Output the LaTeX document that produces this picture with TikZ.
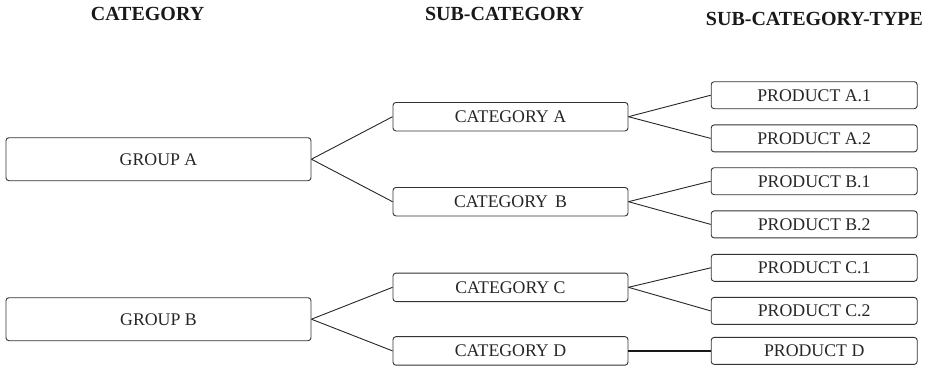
\documentclass[tikz,border=0pt]{standalone}
\usepackage{fontspec}
\setmainfont{Liberation Serif}
\begin{document}
\begin{tikzpicture}[x=1pt,y=-1pt,
  box/.style={draw=black!80,line width=0.9pt,rounded corners=3pt,inner sep=0pt,
    font=\fontsize{17.8}{20}\selectfont,text height=11.8pt,text depth=0pt,text=black!85},
  grp/.style={box,minimum width=305pt,minimum height=43pt},
  cat/.style={box,minimum width=235pt,minimum height=28.5pt},
  prod/.style={box,minimum width=206pt,minimum height=27pt},
  head/.style={inner sep=0pt,font=\fontsize{20}{22}\selectfont\bfseries,text height=13.3pt,text depth=0pt,text=black!90},
  link/.style={draw=black!85,line width=0.9pt},
  thick link/.style={draw=black!90,line width=1.8pt}]
\useasboundingbox (0,0) rectangle (937,368);
\node[head] (h1) at (147.5,14) {CATEGORY};
\node[head] (h2) at (504.5,13.7) {SUB-CATEGORY};
\node[head] (h3) at (814.5,19.2) {SUB-CATEGORY-TYPE};

\node[grp] (ga) at (158.5,159.2) {GROUP A};
\node[grp] (gb) at (158.5,319.2) {GROUP B};

\node[cat] (ca) at (510.5,116.7) {CATEGORY A};
\node[cat] (cb) at (510.5,201.7) {CATEGORY\kern2.5pt\ B};
\node[cat] (cc) at (510.5,287.3) {CATEGORY C};
\node[cat] (cd) at (510.5,350.9) {CATEGORY D};

\node[prod] (a1) at (814.2,95.2) {PRODUCT A.1};
\node[prod] (a2) at (814.2,138.4) {PRODUCT A.2};
\node[prod] (b1) at (814.2,181.2) {PRODUCT B.1};
\node[prod] (b2) at (814.2,224.4) {PRODUCT B.2};
\node[prod] (c1) at (814.2,267.8) {PRODUCT C.1};
\node[prod] (c2) at (814.2,310.9) {PRODUCT C.2};
\node[prod] (pd) at (814.2,350.9) {PRODUCT D};

\draw[link] (ga.east) -- (ca.west);
\draw[link] (ga.east) -- (cb.west);
\draw[link] (gb.east) -- (cc.west);
\draw[link] (gb.east) -- (cd.west);
\draw[link] (ca.east) -- (a1.west);
\draw[link] (ca.east) -- (a2.west);
\draw[link] (cb.east) -- (b1.west);
\draw[link] (cb.east) -- (b2.west);
\draw[link] (cc.east) -- (c1.west);
\draw[link] (cc.east) -- (c2.west);
\draw[thick link] (cd.east) -- (pd.west);
\end{tikzpicture}
\end{document}
